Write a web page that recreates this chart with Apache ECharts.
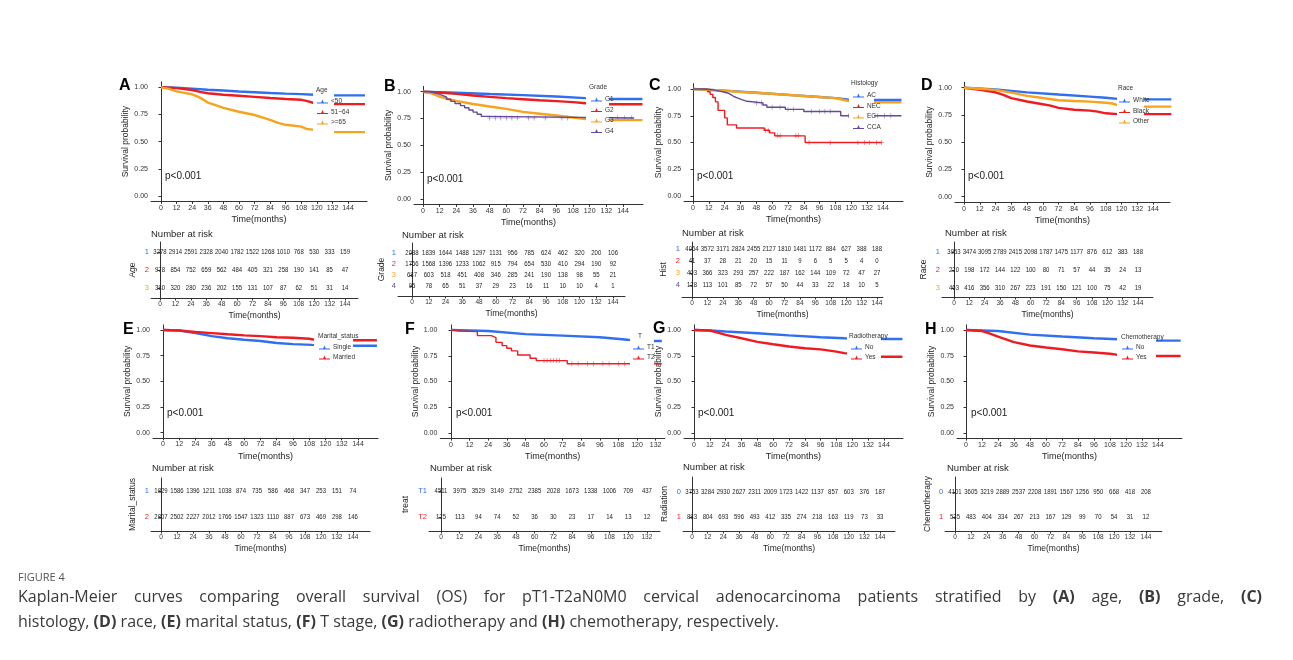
<!DOCTYPE html>
<html>
<head>
<meta charset="utf-8">
<script src="https://cdn.jsdelivr.net/npm/echarts@6/dist/echarts.min.js"></script>
<style>html,body{margin:0;padding:0;background:#fff}#main{width:1293px;height:660px}</style>
</head>
<body>
<div id="main"></div>
<script>
// tick labels
var monthTicks = [0, 12, 24, 36, 48, 60, 72, 84, 96, 108, 120, 132, 144];
var monthTicksF = [0, 12, 24, 36, 48, 60, 72, 84, 96, 108, 120, 132];
var survTicks = [0, 0.25, 0.5, 0.75, 1];

// KM curves, [month, survival]
var ageLow = [[0,1],[12,0.996],[24,0.988],[36,0.978],[48,0.97],[60,0.962],[72,0.955],[84,0.948],[96,0.942],[108,0.937],[118,0.932],[132,0.926],[157,0.926]];
var ageMid = [[0,1],[12,0.992],[24,0.975],[30,0.958],[36,0.945],[48,0.932],[60,0.922],[72,0.912],[84,0.902],[96,0.893],[108,0.885],[112,0.875],[117,0.858],[132,0.845],[157,0.845]];
var ageHigh = [[0,1],[6,0.985],[12,0.962],[24,0.935],[30,0.905],[36,0.86],[42,0.835],[48,0.81],[60,0.775],[72,0.745],[84,0.7],[90,0.672],[96,0.655],[108,0.638],[112,0.618],[118,0.608],[124,0.6],[132,0.588],[157,0.588]];

var gradeG1 = [[0,1],[24,0.99],[48,0.978],[72,0.968],[96,0.955],[117,0.94],[132,0.932],[158,0.932]];
var gradeG2 = [[0,1],[12,0.993],[24,0.98],[36,0.965],[48,0.952],[60,0.94],[72,0.93],[84,0.92],[96,0.912],[108,0.903],[117,0.893],[132,0.883],[158,0.883]];
var gradeG3 = [[0,1],[6,0.985],[12,0.955],[18,0.932],[24,0.915],[36,0.885],[48,0.862],[60,0.84],[72,0.812],[84,0.795],[96,0.778],[108,0.76],[117,0.745],[132,0.735],[158,0.735]];
var gradeG4 = [[0,1],[4,0.99],[8,0.98],[11,0.965],[14,0.95],[17,0.93],[20,0.91],[23,0.89],[27,0.87],[30,0.85],[33,0.83],[36,0.81],[39,0.79],[42,0.77],[45,0.755],[152,0.755]];
var gradeG4Cens = [48,52,56,60,64,68,76,80,88,100,104,140,145,150];

var histAC = [[0,1],[24,0.985],[48,0.965],[72,0.945],[96,0.925],[108,0.915],[117,0.903],[132,0.897],[158,0.897]];
var histNEC = [[0,1],[11,0.975],[13,0.95],[15,0.92],[17,0.88],[19,0.8],[24,0.73],[26,0.665],[33,0.635],[54,0.615],[58,0.59],[62,0.562],[85,0.5],[143,0.5]];
var histNECCens = [55,57,64,66,78,80,88,104,125,130,134,139,143];
var histEC = [[0,1],[24,0.985],[36,0.972],[60,0.955],[84,0.935],[108,0.915],[117,0.89],[132,0.876],[158,0.876]];
var histCCA = [[0,1],[8,0.99],[16,0.98],[20,0.97],[24,0.96],[27,0.945],[29,0.93],[31,0.915],[34,0.9],[37,0.885],[41,0.87],[53,0.85],[56,0.83],[70,0.81],[84,0.79],[112,0.75],[158,0.75]];
var histCCACens = [48,52,60,66,72,76,90,96,100,104,118,122,140,145,150];

var raceWhite = [[0,1],[24,0.985],[48,0.957],[72,0.937],[96,0.918],[108,0.908],[117,0.897],[137,0.893],[158,0.893]];
var raceBlack = [[0,1],[12,0.98],[24,0.958],[30,0.935],[36,0.905],[48,0.873],[60,0.848],[66,0.835],[72,0.815],[84,0.798],[96,0.79],[102,0.78],[108,0.765],[117,0.758],[137,0.758],[158,0.758]];
var raceOther = [[0,1],[12,0.99],[24,0.98],[36,0.955],[48,0.925],[60,0.905],[72,0.885],[84,0.878],[96,0.872],[108,0.862],[113,0.855],[117,0.84],[137,0.826],[158,0.826]];

var marSingle = [[0,1],[12,0.995],[24,0.97],[36,0.94],[48,0.92],[60,0.905],[72,0.893],[84,0.873],[96,0.862],[110,0.855],[138,0.847],[158,0.847]];
var marMarried = [[0,1],[12,0.995],[24,0.98],[36,0.97],[48,0.958],[60,0.948],[72,0.94],[84,0.93],[96,0.925],[108,0.915],[111,0.908],[138,0.9],[158,0.9]];

var tT1 = [[0,1],[24,0.99],[48,0.96],[72,0.945],[96,0.93],[114,0.905],[132,0.893],[136,0.893]];
var tT2 = [[0,1],[2,0.99],[5,0.984],[17,0.945],[26,0.926],[29,0.88],[33,0.848],[36,0.823],[39,0.797],[43,0.758],[51,0.726],[55,0.703],[75,0.672],[136,0.672]];
var tT2Cens = [60,62,64,66,68,70,78,82,88,92,98,102,108,112,133];

var radNo = [[0,1],[12,0.995],[24,0.985],[48,0.968],[72,0.948],[96,0.93],[114,0.92],[140,0.912],[158,0.912]];
var radYes = [[0,1],[12,0.995],[18,0.975],[24,0.952],[36,0.92],[48,0.885],[60,0.862],[72,0.84],[84,0.823],[96,0.812],[108,0.79],[114,0.775],[140,0.74],[158,0.74]];

var chemoNo = [[0,1],[24,0.99],[48,0.955],[72,0.937],[96,0.92],[114,0.91],[142,0.897],[161,0.897]];
var chemoYes = [[0,1],[12,0.99],[18,0.965],[24,0.935],[36,0.882],[48,0.85],[60,0.83],[72,0.813],[84,0.792],[96,0.782],[108,0.77],[114,0.758],[142,0.748],[161,0.748]];

// number at risk
var ageRisk1 = [3278,2914,2591,2328,2040,1782,1522,1268,1010,768,530,333,159];
var ageRisk2 = [978,854,752,659,562,484,405,321,258,190,141,85,47];
var ageRisk3 = [380,320,280,236,202,155,131,107,87,62,51,31,14];
var gradeRisk1 = [2088,1839,1644,1488,1297,1131,956,785,624,462,320,200,106];
var gradeRisk2 = [1766,1568,1396,1233,1062,915,794,654,530,410,294,190,92];
var gradeRisk3 = [687,603,518,451,408,346,285,241,190,138,98,55,21];
var gradeRisk4 = [95,78,65,51,37,29,23,16,11,10,10,4,1];
var histRisk1 = [4064,3572,3171,2824,2455,2127,1810,1481,1172,884,627,388,188];
var histRisk2 = [41,37,28,21,20,15,11,9,6,5,5,4,0];
var histRisk3 = [403,366,323,293,257,222,187,162,144,109,72,47,27];
var histRisk4 = [128,113,101,85,72,57,50,44,33,22,18,10,5];
var raceRisk1 = [3953,3474,3095,2789,2415,2098,1787,1475,1177,876,612,383,188];
var raceRisk2 = [220,198,172,144,122,100,80,71,57,44,35,24,13];
var raceRisk3 = [463,416,356,310,267,223,191,150,121,100,75,42,19];
var marRisk1 = [1829,1586,1396,1211,1038,874,735,586,468,347,253,151,74];
var marRisk2 = [2807,2502,2227,2012,1766,1547,1323,1110,887,673,469,298,146];
var tRisk1 = [4511,3975,3529,3149,2752,2385,2028,1673,1338,1006,709,437];
var tRisk2 = [125,113,94,74,52,36,30,23,17,14,13,12];
var radRisk0 = [3753,3284,2930,2627,2311,2009,1723,1422,1137,857,603,376,187];
var radRisk1 = [883,804,693,596,493,412,335,274,218,163,119,73,33];
var chemoRisk0 = [4101,3605,3219,2889,2537,2208,1891,1567,1256,950,668,418,208];
var chemoRisk1 = [535,483,404,334,267,213,167,129,99,70,54,31,12];

var BLUE = '#2f6ff0', RED = '#ee1c22', ORANGE = '#f6a31e', PURPLE = '#654a97';
var FONT = 'Liberation Sans, Arial, sans-serif';
var TXT = '#262626';
var legendIcon = 'path://M0,4.2H4.6L6,1L7.4,4.2H12V5.1H0Z';
var plusIcon = 'path://M4,0H5V4H9V5H5V9H4V5H0V4H4Z';

var grid = [], xAxis = [], yAxis = [], series = [], legend = [], elements = [];

function survAt(curve, t) {
  var s = 1;
  curve.forEach(function (p) { if (p[0] <= t) s = p[1]; });
  return s;
}

function txt(x, y, text, size, opt) {
  opt = opt || {};
  elements.push({
    type: 'text', z: 100,
    style: {
      x: x, y: y, text: text, fill: opt.color || TXT,
      font: (opt.weight || 'normal') + ' ' + size + 'px ' + (opt.family || FONT),
      align: opt.align || 'left', verticalAlign: 'middle'
    }
  });
}

function addPlot(L, lines) {
  var i = grid.length;
  var h = L.y0 - L.y1;
  grid.push({ left: L.x0 + L.xmin * L.k, top: L.y1 - 0.05 * h, width: (L.xmax - L.xmin) * L.k, height: 1.1 * h });
  var ticks = L.ticks || monthTicks;
  xAxis.push({
    gridIndex: i, type: 'value', min: L.xmin, max: L.xmax,
    axisLine: { onZero: false, lineStyle: { color: '#333', width: 1 } },
    axisTick: { customValues: ticks, length: 2.5, lineStyle: { color: '#333' } },
    axisLabel: { customValues: ticks, fontSize: 7, color: '#333', margin: 3, fontFamily: FONT },
    splitLine: { show: false },
    name: 'Time(months)', nameLocation: 'middle', nameGap: 14,
    nameTextStyle: { fontSize: 9, color: TXT, fontFamily: FONT }
  });
  yAxis.push({
    gridIndex: i, type: 'value', min: -0.05, max: 1.05,
    axisLine: { show: true, lineStyle: { color: '#333', width: 1 } },
    axisTick: { show: true, customValues: survTicks, length: 2.5, lineStyle: { color: '#333' } },
    axisLabel: { customValues: survTicks, fontSize: 7, color: '#333', margin: 3, fontFamily: FONT,
      formatter: function (v) { return v.toFixed(2); } },
    splitLine: { show: false },
    name: 'Survival probability', nameLocation: 'middle', nameRotate: 90, nameGap: L.yGap,
    nameTextStyle: { fontSize: 8.5, color: TXT, fontFamily: FONT }
  });
  lines.forEach(function (c) {
    series.push({
      type: 'line', name: c.name, xAxisIndex: i, yAxisIndex: i, data: c.data,
      step: c.step ? 'end' : false, showSymbol: false, silent: true,
      itemStyle: { color: c.color },
      lineStyle: { width: c.step ? 1.4 : 2.4, color: c.color }
    });
    if (c.censor) {
      series.push({
        type: 'scatter', name: c.name + ' +', xAxisIndex: i, yAxisIndex: i, silent: true,
        data: c.censor.map(function (t) { return [t, survAt(c.data, t)]; }),
        symbol: plusIcon, symbolSize: 5, itemStyle: { color: c.color }
      });
    }
  });
  // legend box hides the curves behind it, as in ggplot
  elements.push({ type: 'rect', z: 90, shape: { x: L.gap[0], y: L.gap[1], width: L.gap[2], height: L.gap[3] }, style: { fill: '#fff' } });
  legend.push({
    left: L.leg[0], top: L.leg[1], orient: 'vertical', z: 110, padding: 0,
    data: lines.map(function (c) { return c.name; }),
    icon: legendIcon, itemWidth: 11, itemHeight: 5, itemGap: L.legGap || 3.5,
    selectedMode: false,
    textStyle: { fontSize: 6.5, color: '#333', fontFamily: FONT, padding: [0, 0, 0, -2] }
  });
  txt(L.title[0], L.title[1], L.title[2], 6.5, { color: '#333' });
  txt(L.letter[0], L.letter[1], L.letter[2], 16, { weight: 'bold', color: '#000' });
  txt(L.p[0], L.p[1], 'p<0.001', 10, { color: '#222' });
}

// condensed number-at-risk text, placed through the table's axes
function riskText(params, api) {
  var p = api.coord([api.value(0), api.value(1)]);
  return {
    type: 'text', x: p[0], y: p[1], scaleX: 0.8, silent: true,
    style: { text: String(api.value(2)), fill: '#222', font: '7.5px ' + FONT, align: 'center', verticalAlign: 'middle' }
  };
}

function addTable(T, rows) {
  var i = grid.length;
  var n = rows.length;
  var s = (T.rn - T.r1) / (n - 1);
  var ymin = 1 - (T.r1 - T.top) / s, ymax = n + (T.bottom - T.rn) / s;
  var ticks = T.ticks || monthTicks;
  var idx = rows.map(function (r, j) { return j + 1; });
  var rich = {};
  rows.forEach(function (r, j) { rich['c' + (j + 1)] = { color: r.color, fontSize: 7.5, fontFamily: FONT }; });
  grid.push({ left: T.x0 + T.xmin * T.k, top: T.top, width: (T.xmax - T.xmin) * T.k, height: T.bottom - T.top });
  xAxis.push({
    gridIndex: i, type: 'value', min: T.xmin, max: T.xmax,
    axisLine: { onZero: false, lineStyle: { color: '#333', width: 1 } },
    axisTick: { customValues: ticks, length: 2.5, lineStyle: { color: '#333' } },
    axisLabel: { customValues: ticks, fontSize: 6.5, color: '#333', margin: 3, fontFamily: FONT },
    splitLine: { show: false },
    name: 'Time(months)', nameLocation: 'middle', nameGap: 13,
    nameTextStyle: { fontSize: 8.5, color: TXT, fontFamily: FONT }
  });
  yAxis.push({
    gridIndex: i, type: 'value', inverse: true, min: ymin, max: ymax,
    axisLine: { show: true, lineStyle: { color: '#333', width: 1 } },
    axisTick: { show: true, customValues: idx, length: 2.5, lineStyle: { color: '#333' } },
    axisLabel: { customValues: idx, margin: 2, rich: rich,
      formatter: function (v) { return '{c' + v + '|' + rows[v - 1].label + '}'; } },
    splitLine: { show: false },
    name: T.name, nameLocation: 'middle', nameRotate: 90, nameGap: T.nameGap,
    nameTextStyle: { fontSize: 8.5, color: TXT, fontFamily: FONT }
  });
  rows.forEach(function (r, j) {
    series.push({
      type: 'custom', name: T.name + ' risk ' + (j + 1), xAxisIndex: i, yAxisIndex: i, silent: true,
      data: r.values.map(function (v, q) { return [ticks[q], j + 1, v]; }),
      renderItem: riskText
    });
  });
  txt(T.head[0], T.head[1], 'Number at risk', 9.5, { color: TXT });
}

// ---- top row ----
addPlot({ x0: 161, k: 1.299, xmin: -7.7, xmax: 158.6, y1: 87.3, y0: 196, yGap: 17,
  gap: [313, 82, 21, 55], leg: [317, 98], title: [316, 90, 'Age'], letter: [119, 86, 'A'], p: [165, 176] },
  [{ name: '<50', data: ageLow, color: BLUE }, { name: '51~64', data: ageMid, color: RED }, { name: '>=65', data: ageHigh, color: ORANGE }]);
addPlot({ x0: 423, k: 1.389, xmin: -6.5, xmax: 158.4, y1: 91.7, y0: 199, yGap: 18,
  gap: [586, 84, 23, 52], leg: [591, 96], title: [589, 87, 'Grade'], letter: [384, 87, 'B'], p: [427, 179] },
  [{ name: 'G1', data: gradeG1, color: BLUE }, { name: 'G2', data: gradeG2, color: RED }, { name: 'G3', data: gradeG3, color: ORANGE },
   { name: 'G4', data: gradeG4, color: PURPLE, step: true, censor: gradeG4Cens }]);
addPlot({ x0: 693, k: 1.319, xmin: -6.8, xmax: 159.2, y1: 89, y0: 196, yGap: 17,
  gap: [849, 80, 25, 52], leg: [853, 92], title: [851, 83, 'Histology'], letter: [649, 86, 'C'], p: [697, 176] },
  [{ name: 'AC', data: histAC, color: BLUE }, { name: 'NEC', data: histNEC, color: RED, step: true, censor: histNECCens },
   { name: 'EC', data: histEC, color: ORANGE }, { name: 'CCA', data: histCCA, color: PURPLE, step: true, censor: histCCACens }]);
addPlot({ x0: 964, k: 1.3125, xmin: -6.9, xmax: 157, y1: 87.7, y0: 196.7, yGap: 15,
  gap: [1117, 82, 27, 48], leg: [1119, 97], title: [1118, 88, 'Race'], letter: [921, 86, 'D'], p: [968, 176] },
  [{ name: 'White', data: raceWhite, color: BLUE }, { name: 'Black', data: raceBlack, color: RED }, { name: 'Other', data: raceOther, color: ORANGE }]);

addTable({ x0: 160, k: 1.285, xmin: -7, xmax: 154, top: 242, bottom: 298, r1: 252, rn: 288, name: 'Age', nameGap: 14, head: [151, 234] },
  [{ label: '1', color: BLUE, values: ageRisk1 }, { label: '2', color: RED, values: ageRisk2 }, { label: '3', color: ORANGE, values: ageRisk3 }]);
addTable({ x0: 412, k: 1.396, xmin: -10, xmax: 152.6, top: 243, bottom: 296, r1: 253, rn: 286, name: 'Grade', nameGap: 12, head: [402, 235] },
  [{ label: '1', color: BLUE, values: gradeRisk1 }, { label: '2', color: RED, values: gradeRisk2 },
   { label: '3', color: ORANGE, values: gradeRisk3 }, { label: '4', color: PURPLE, values: gradeRisk4 }]);
addTable({ x0: 692, k: 1.285, xmin: -7.8, xmax: 148.6, top: 242, bottom: 297, r1: 249, rn: 285, name: 'Hist', nameGap: 14, head: [682, 233] },
  [{ label: '1', color: BLUE, values: histRisk1 }, { label: '2', color: RED, values: histRisk2 },
   { label: '3', color: ORANGE, values: histRisk3 }, { label: '4', color: PURPLE, values: histRisk4 }]);
addTable({ x0: 954, k: 1.278, xmin: -9.4, xmax: 155.7, top: 242, bottom: 297, r1: 252, rn: 288, name: 'Race', nameGap: 14, head: [945, 233] },
  [{ label: '1', color: BLUE, values: raceRisk1 }, { label: '2', color: RED, values: raceRisk2 }, { label: '3', color: ORANGE, values: raceRisk3 }]);

// ---- bottom row ----
addPlot({ x0: 163, k: 1.354, xmin: -7.4, xmax: 158.8, y1: 330, y0: 432.7, yGap: 16,
  gap: [314, 326, 39, 36], leg: [319, 344], title: [318, 336, 'Marital_status'], letter: [123, 330, 'E'], p: [167, 413], legGap: 3 },
  [{ name: 'Single', data: marSingle, color: BLUE }, { name: 'Married', data: marMarried, color: RED }]);
addPlot({ x0: 451, k: 1.55, xmin: -6.9, xmax: 138, y1: 330, y0: 433, yGap: 18, ticks: monthTicksF,
  gap: [630, 326, 24, 40], leg: [633, 344], title: [638, 336, 'T'], letter: [405, 330, 'F'], p: [456, 413], legGap: 3 },
  [{ name: 'T1', data: tT1, color: BLUE }, { name: 'T2', data: tT2, color: RED, step: true, censor: tT2Cens }]);
addPlot({ x0: 694, k: 1.319, xmin: -7.6, xmax: 158.4, y1: 330, y0: 433, yGap: 16,
  gap: [847, 326, 34, 38], leg: [851, 344], title: [849, 336, 'Radiotherapy'], letter: [653, 329, 'G'], p: [698, 413], legGap: 3 },
  [{ name: 'No', data: radNo, color: BLUE }, { name: 'Yes', data: radYes, color: RED }]);
addPlot({ x0: 966, k: 1.333, xmin: -6.75, xmax: 162, y1: 330, y0: 433, yGap: 16,
  gap: [1117, 326, 39, 38], leg: [1122, 344], title: [1121, 337, 'Chemotherapy'], letter: [925, 330, 'H'], p: [971, 413], legGap: 3 },
  [{ name: 'No ', data: chemoNo, color: BLUE }, { name: 'Yes ', data: chemoYes, color: RED }]);

addTable({ x0: 161, k: 1.333, xmin: -7.5, xmax: 156.8, top: 478, bottom: 531, r1: 491, rn: 517, name: 'Marital_status', nameGap: 14, head: [152, 468] },
  [{ label: '1', color: BLUE, values: marRisk1 }, { label: '2', color: RED, values: marRisk2 }]);
addTable({ x0: 441, k: 1.56, xmin: -7.7, xmax: 140.4, ticks: monthTicksF, top: 478, bottom: 531, r1: 491, rn: 517, name: 'treat', nameGap: 19, head: [430, 468] },
  [{ label: 'T1', color: BLUE, values: tRisk1 }, { label: 'T2', color: RED, values: tRisk2 }]);
addTable({ x0: 692, k: 1.306, xmin: -6.9, xmax: 155.4, top: 477, bottom: 531, r1: 492, rn: 517, name: 'Radiation', nameGap: 14, head: [683, 467] },
  [{ label: '0', color: BLUE, values: radRisk0 }, { label: '1', color: RED, values: radRisk1 }]);
addTable({ x0: 955, k: 1.326, xmin: -7.5, xmax: 156, top: 477, bottom: 531, r1: 492, rn: 517, name: 'Chemotherapy', nameGap: 13, head: [947, 468] },
  [{ label: '0', color: BLUE, values: chemoRisk0 }, { label: '1', color: RED, values: chemoRisk1 }]);

// caption; the first line is justified across the text block
var capFont = 'Open Sans, Liberation Sans, sans-serif';
var capColor = '#3a3a3a';
txt(18, 578, 'FIGURE 4', 11, { color: '#555', family: capFont });

function captionLine(text, x, y, width) {
  var ctx = document.createElement('canvas').getContext('2d');
  var words = text.split(' ').map(function (w) {
    var bold = /^\([A-H]\)$/.test(w);
    ctx.font = (bold ? 'bold ' : '') + '16px ' + capFont;
    return { t: w, bold: bold, w: ctx.measureText(w).width };
  });
  var total = words.reduce(function (a, w) { return a + w.w; }, 0);
  var space = width ? (width - total) / (words.length - 1) : 4.3;
  var cx = x;
  words.forEach(function (w) {
    elements.push({ type: 'text', z: 100, style: { x: cx, y: y, text: w.t, fill: capColor, verticalAlign: 'middle',
      font: (w.bold ? 'bold ' : '') + '16px ' + capFont } });
    cx += w.w + space;
  });
}
captionLine('Kaplan-Meier curves comparing overall survival (OS) for pT1-T2aN0M0 cervical adenocarcinoma patients stratified by (A) age, (B) grade, (C)', 18, 597, 1244);
captionLine('histology, (D) race, (E) marital status, (F) T stage, (G) radiotherapy and (H) chemotherapy, respectively.', 18, 622, 0);

var chart = echarts.init(document.getElementById('main'), null, { renderer: 'canvas' });
chart.setOption({
  backgroundColor: '#fff',
  animation: false,
  textStyle: { fontFamily: FONT },
  grid: grid, xAxis: xAxis, yAxis: yAxis, series: series, legend: legend,
  graphic: { elements: elements }
});
</script>
</body>
</html>
